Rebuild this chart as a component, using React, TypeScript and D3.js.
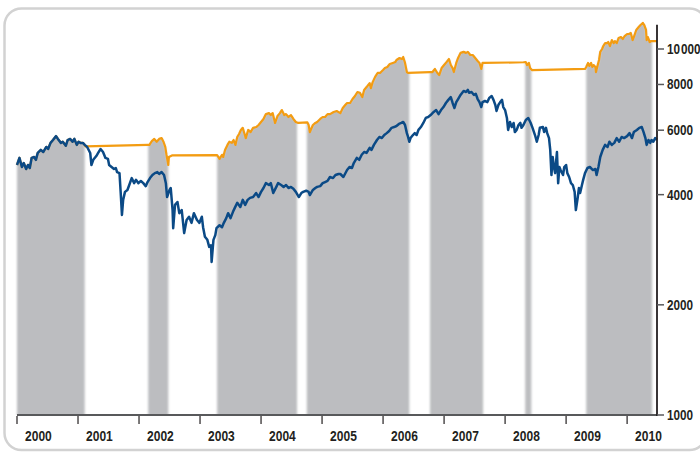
import * as d3 from 'd3';

// tick labels
const yearTicks = [2000, 2001, 2002, 2003, 2004, 2005, 2006, 2007, 2008, 2009, 2010];
const valueTicks = [1000, 2000, 4000, 6000, 8000, 10000];
const valueLabels = ['1000', '2000', '4000', '6000', '8000', '10\u200a000'];

// index (blue), [decimal year, level]
const indexSeries: [number, number][] = [
  [2000.0, 4820], [2000.04, 5040], [2000.08, 4760], [2000.11, 4880], [2000.15, 4700], [2000.18, 4820],
  [2000.21, 4730], [2000.24, 5040], [2000.28, 5070], [2000.31, 4980], [2000.34, 5200], [2000.39, 5300],
  [2000.43, 5230], [2000.48, 5400], [2000.51, 5330], [2000.55, 5540], [2000.59, 5640], [2000.64, 5780],
  [2000.67, 5680], [2000.72, 5540], [2000.75, 5580], [2000.8, 5440], [2000.83, 5640], [2000.87, 5680],
  [2000.91, 5580], [2000.94, 5680], [2000.98, 5470], [2001.01, 5580], [2001.04, 5540], [2001.08, 5540],
  [2001.11, 5470], [2001.15, 5400], [2001.2, 5200], [2001.22, 4820], [2001.25, 4980], [2001.3, 5100],
  [2001.33, 5200], [2001.37, 5330], [2001.41, 5230], [2001.45, 5040], [2001.49, 5010], [2001.51, 4820],
  [2001.55, 4760], [2001.59, 4700], [2001.62, 4730], [2001.64, 4610], [2001.68, 4580], [2001.7, 4040],
  [2001.72, 3520], [2001.74, 3870], [2001.77, 4070], [2001.81, 4120], [2001.84, 4250], [2001.88, 4440],
  [2001.92, 4300], [2001.95, 4390], [2001.99, 4300], [2002.03, 4360], [2002.07, 4300], [2002.11, 4220],
  [2002.14, 4330], [2002.18, 4440], [2002.22, 4525], [2002.26, 4580], [2002.3, 4610], [2002.33, 4555],
  [2002.37, 4610], [2002.41, 4525], [2002.44, 4300], [2002.46, 3940], [2002.5, 4120], [2002.52, 4170],
  [2002.55, 3630], [2002.56, 3240], [2002.59, 3750], [2002.63, 3820], [2002.66, 3560], [2002.7, 3630],
  [2002.74, 3140], [2002.78, 3410], [2002.82, 3480], [2002.86, 3350], [2002.9, 3560], [2002.95, 3410],
  [2002.99, 3350], [2003.03, 3480], [2003.05, 3260], [2003.08, 3070], [2003.12, 3010], [2003.15, 2880],
  [2003.18, 2910], [2003.19, 2620], [2003.22, 3010], [2003.25, 3100], [2003.27, 3240], [2003.32, 3300],
  [2003.36, 3260], [2003.39, 3350], [2003.43, 3450], [2003.46, 3560], [2003.5, 3450], [2003.54, 3590],
  [2003.57, 3680], [2003.61, 3800], [2003.66, 3700], [2003.7, 3870], [2003.74, 3750], [2003.78, 3870],
  [2003.82, 3920], [2003.87, 3940], [2003.92, 4040], [2003.96, 3940], [2004.0, 4070], [2004.04, 4170],
  [2004.08, 4300], [2004.13, 4250], [2004.16, 4300], [2004.2, 4040], [2004.25, 4200], [2004.28, 4300],
  [2004.33, 4250], [2004.37, 4200], [2004.41, 4250], [2004.45, 4170], [2004.49, 4200], [2004.53, 4150],
  [2004.57, 4070], [2004.62, 3940], [2004.66, 4040], [2004.69, 4070], [2004.74, 4100], [2004.78, 4070],
  [2004.8, 3990], [2004.85, 4120], [2004.89, 4170], [2004.92, 4200], [2004.97, 4220], [2005.01, 4300],
  [2005.05, 4330], [2005.09, 4360], [2005.13, 4470], [2005.18, 4440], [2005.22, 4525], [2005.27, 4555],
  [2005.3, 4555], [2005.35, 4470], [2005.41, 4670], [2005.45, 4760], [2005.49, 4730], [2005.52, 4880],
  [2005.57, 5040], [2005.61, 4980], [2005.65, 5140], [2005.69, 5230], [2005.73, 5200], [2005.78, 5370],
  [2005.81, 5300], [2005.85, 5470], [2005.9, 5640], [2005.94, 5750], [2005.98, 5710], [2006.02, 5820],
  [2006.06, 5890], [2006.1, 5970], [2006.14, 6090], [2006.18, 6120], [2006.22, 6160], [2006.26, 6240],
  [2006.3, 6280], [2006.33, 6320], [2006.36, 6200], [2006.39, 5890], [2006.41, 5750], [2006.43, 5580],
  [2006.45, 5710], [2006.49, 5820], [2006.52, 5890], [2006.55, 5820], [2006.58, 6010], [2006.62, 6120],
  [2006.66, 6280], [2006.7, 6480], [2006.74, 6520], [2006.78, 6600], [2006.83, 6730], [2006.87, 6810],
  [2006.91, 6640], [2006.95, 6810], [2006.99, 6940], [2007.03, 7120], [2007.07, 7260], [2007.11, 7390],
  [2007.14, 7120], [2007.17, 6900], [2007.2, 7160], [2007.23, 7300], [2007.27, 7490], [2007.32, 7680],
  [2007.36, 7630], [2007.39, 7730], [2007.41, 7590], [2007.45, 7630], [2007.49, 7490], [2007.52, 7540],
  [2007.55, 7300], [2007.58, 7160], [2007.61, 6940], [2007.63, 7160], [2007.67, 7210], [2007.71, 7160],
  [2007.74, 7350], [2007.78, 7440], [2007.81, 7260], [2007.84, 7030], [2007.86, 6770], [2007.89, 7030],
  [2007.92, 7160], [2007.95, 7260], [2007.97, 6940], [2008.0, 6810], [2008.03, 6480], [2008.05, 6010],
  [2008.08, 6320], [2008.11, 6120], [2008.14, 6280], [2008.16, 5930], [2008.19, 6010], [2008.22, 6200],
  [2008.25, 6280], [2008.27, 6090], [2008.3, 6200], [2008.34, 6400], [2008.38, 6480], [2008.42, 6280],
  [2008.45, 6090], [2008.49, 5820], [2008.52, 5580], [2008.55, 5820], [2008.57, 6090], [2008.62, 6120],
  [2008.64, 5930], [2008.67, 6090], [2008.69, 5890], [2008.72, 5710], [2008.74, 5300], [2008.76, 4525],
  [2008.78, 5070], [2008.8, 4760], [2008.82, 4580], [2008.85, 5230], [2008.87, 4300], [2008.89, 4760],
  [2008.91, 4670], [2008.95, 4525], [2008.97, 4760], [2009.0, 4820], [2009.02, 4580], [2009.05, 4470],
  [2009.08, 4300], [2009.11, 4250], [2009.14, 4070], [2009.16, 3630], [2009.19, 3920], [2009.21, 4170],
  [2009.23, 4040], [2009.26, 4250], [2009.28, 4390], [2009.31, 4580], [2009.35, 4730], [2009.39, 4760],
  [2009.44, 4670], [2009.48, 4700], [2009.5, 4525], [2009.53, 4760], [2009.56, 5070], [2009.6, 5300],
  [2009.64, 5470], [2009.68, 5400], [2009.71, 5580], [2009.75, 5470], [2009.79, 5540], [2009.83, 5710],
  [2009.87, 5580], [2009.91, 5750], [2009.95, 5710], [2010.0, 5780], [2010.04, 5890], [2010.08, 5710],
  [2010.11, 5930], [2010.16, 6010], [2010.2, 6090], [2010.24, 6120], [2010.27, 5930], [2010.3, 5710],
  [2010.32, 5470], [2010.35, 5640], [2010.38, 5540], [2010.4, 5640], [2010.43, 5580], [2010.46, 5710],
  [2010.49, 5650],
];

// strategy (orange) after the first invested period; before that it equals the index
const strategyTail: [number, number][] = [
  [2001.12, 5420], [2002.15, 5470], [2002.17, 5470], [2002.21, 5600], [2002.25, 5680], [2002.29, 5580],
  [2002.33, 5680], [2002.37, 5710], [2002.4, 5580], [2002.43, 5400], [2002.45, 5140], [2002.48, 4820],
  [2002.49, 5070], [2002.54, 5120], [2003.28, 5130], [2003.32, 5010], [2003.36, 5140], [2003.38, 5070],
  [2003.41, 5300], [2003.45, 5470], [2003.48, 5580], [2003.52, 5540], [2003.55, 5640], [2003.58, 5470],
  [2003.61, 5750], [2003.64, 5860], [2003.67, 6010], [2003.7, 6090], [2003.72, 5930], [2003.75, 5710],
  [2003.79, 6010], [2003.83, 5930], [2003.87, 6090], [2003.92, 6120], [2003.96, 6200], [2004.0, 6320],
  [2004.04, 6440], [2004.08, 6640], [2004.13, 6680], [2004.16, 6600], [2004.19, 6680], [2004.23, 6280],
  [2004.27, 6560], [2004.31, 6680], [2004.34, 6810], [2004.38, 6600], [2004.41, 6640], [2004.45, 6520],
  [2004.49, 6600], [2004.53, 6440], [2004.57, 6320], [2004.61, 6280], [2004.76, 6300], [2004.78, 6200],
  [2004.8, 5930], [2004.85, 6200], [2004.89, 6280], [2004.92, 6320], [2004.97, 6440], [2005.01, 6520],
  [2005.05, 6520], [2005.09, 6640], [2005.13, 6640], [2005.19, 6730], [2005.24, 6770], [2005.3, 6680],
  [2005.34, 6900], [2005.38, 7030], [2005.41, 7120], [2005.46, 7120], [2005.5, 7300], [2005.54, 7440],
  [2005.58, 7630], [2005.62, 7590], [2005.66, 7390], [2005.69, 7730], [2005.73, 7870], [2005.78, 8070],
  [2005.8, 7820], [2005.83, 8120], [2005.87, 8390], [2005.91, 8600], [2005.95, 8600], [2006.0, 8760],
  [2006.03, 8870], [2006.07, 8930], [2006.11, 9100], [2006.16, 9160], [2006.2, 9210], [2006.22, 9330],
  [2006.27, 9450], [2006.31, 9390], [2006.33, 9510], [2006.36, 9160], [2006.39, 8650], [2006.41, 8600],
  [2006.77, 8650], [2006.81, 8650], [2006.85, 8820], [2006.89, 8600], [2006.92, 8490], [2006.96, 8870],
  [2007.0, 9040], [2007.04, 9210], [2007.08, 9390], [2007.11, 9040], [2007.14, 8870], [2007.16, 8650],
  [2007.2, 9160], [2007.23, 9450], [2007.27, 9760], [2007.32, 9820], [2007.36, 9760], [2007.39, 9820],
  [2007.43, 9630], [2007.47, 9630], [2007.51, 9450], [2007.55, 9270], [2007.58, 9160], [2007.61, 8820],
  [2007.63, 9160], [2007.66, 9160], [2008.3, 9200], [2008.34, 9210], [2008.36, 9040], [2008.39, 9160],
  [2008.41, 8870], [2008.44, 8760], [2009.31, 8820], [2009.33, 8930], [2009.36, 9160], [2009.38, 8990],
  [2009.41, 9160], [2009.43, 8930], [2009.45, 9040], [2009.48, 8930], [2009.49, 8650], [2009.51, 8930],
  [2009.54, 9330], [2009.56, 9820], [2009.59, 10000], [2009.61, 10190], [2009.64, 10380], [2009.67, 10380],
  [2009.69, 10450], [2009.72, 10190], [2009.75, 10580], [2009.78, 10380], [2009.8, 10510], [2009.83, 10380],
  [2009.86, 10710], [2009.9, 10780], [2009.93, 10650], [2009.96, 10850], [2010.0, 10990], [2010.03, 10990],
  [2010.06, 11060], [2010.09, 10580], [2010.11, 10780], [2010.15, 11270], [2010.19, 11480], [2010.22, 11630],
  [2010.26, 11780], [2010.28, 11630], [2010.31, 11270], [2010.32, 10580], [2010.34, 10780], [2010.37, 10450],
  [2010.39, 10510], [2010.49, 10510],
];

// invested periods (grey shading), [start year, end year]
const investedBands: [number, number][] = [
  [2000.0, 2001.11], [2002.15, 2002.48], [2003.28, 2004.59], [2004.75, 2006.43],
  [2006.77, 2007.64], [2008.33, 2008.43], [2009.33, 2010.41],
];

const axisTopValue = 11650;
const font = '"Liberation Sans Narrow", "Arial Narrow", sans-serif';

export default function App() {
  const width = 700;
  const height = 455;
  const x = d3.scaleLinear().domain([2000, 2010.49]).range([17, 657]);
  const y = d3.scaleLog().domain([1000, 10000]).range([415, 49]);
  const base = y(1000);
  const strategy = [...indexSeries.filter((d) => d[0] <= 2001.11), ...strategyTail];

  const line = d3.line<[number, number]>().x((d) => x(d[0])).y((d) => y(d[1]));
  const area = d3
    .area<[number, number]>()
    .x((d) => x(d[0]))
    .y0(base)
    .y1((d) => y(d[1]));

  return (
    <svg width={width} height={height} style={{ position: 'absolute', left: 0, top: 0, background: '#fff' }}>
      <defs>
        <clipPath id="bands">
          {investedBands.map((b, i) => (
            <rect key={i} x={x(b[0])} y={0} width={x(b[1]) - x(b[0])} height={base} />
          ))}
        </clipPath>
        <filter id="soft" x="-5%" y="-5%" width="110%" height="110%">
          <feGaussianBlur stdDeviation="0.9 0" />
        </filter>
      </defs>

      <rect x={4.5} y={8.5} width={702} height={441.5} rx={17} fill="none" stroke="#d2d2d2" strokeWidth={2.5} />

      <g filter="url(#soft)">
        <path d={area(strategy) ?? ''} fill="#bcbdc0" clipPath="url(#bands)" />
      </g>

      <path d={line(strategy) ?? ''} fill="none" stroke="#f39c12" strokeWidth={2.2} strokeLinejoin="round" />
      <path d={line(indexSeries) ?? ''} fill="none" stroke="#0b4a86" strokeWidth={2.5} strokeLinejoin="round" />

      {/* x axis */}
      <line x1={x(2000)} x2={x(2010.49)} y1={base} y2={base} stroke="#58595b" strokeWidth={2} />
      {yearTicks.map((t) => (
        <g key={t}>
          <line x1={x(t)} x2={x(t)} y1={base + 1} y2={base + 9} stroke="#231f20" strokeWidth={1.2} />
          <text
            transform={`translate(${x(t) + 8},441) scale(0.86,1)`}
            fontFamily={font}
            fontWeight="bold"
            fontSize={14}
            fill="#231f20"
          >
            {t}
          </text>
        </g>
      ))}

      {/* y axis on the right */}
      <line x1={657} x2={657} y1={y(axisTopValue)} y2={base + 1} stroke="#231f20" strokeWidth={1.8} />
      {valueTicks.map((v, i) => (
        <g key={v}>
          <line x1={657} x2={664} y1={y(v)} y2={y(v)} stroke="#58595b" strokeWidth={1.5} />
          <text
            transform={`translate(667,${y(v) + 5}) scale(0.84,1)`}
            fontFamily={font}
            fontWeight="bold"
            fontSize={14}
            fill="#231f20"
          >
            {valueLabels[i]}
          </text>
        </g>
      ))}
    </svg>
  );
}
